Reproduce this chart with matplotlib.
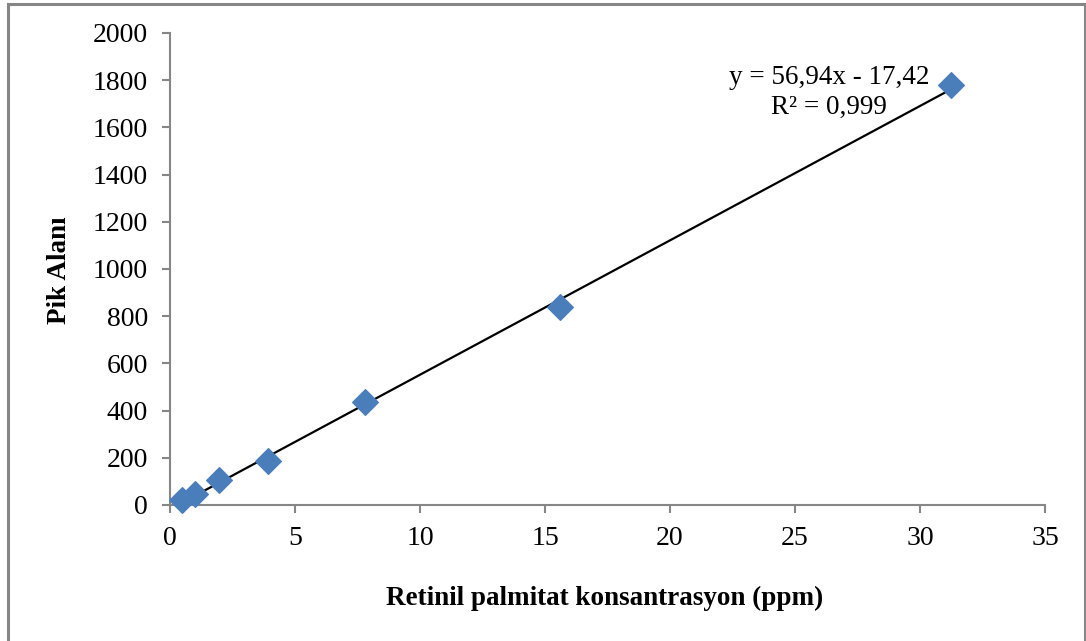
import matplotlib
matplotlib.use("Agg")
import matplotlib.pyplot as plt
from matplotlib.patches import Rectangle
import numpy as np

# Data
concentration = [0.49, 0.98, 1.95, 3.9, 7.8, 15.6, 31.25]
peak_area = [22, 48, 105, 188, 435, 838, 1778]
slope = 56.94
intercept = -17.42
equation_text = "y = 56,94x - 17,42"
r2_text = "R² = 0,999"
x_ticks = [0, 5, 10, 15, 20, 25, 30, 35]
y_ticks = [0, 200, 400, 600, 800, 1000, 1200, 1400, 1600, 1800, 2000]
x_label = "Retinil palmitat konsantrasyon (ppm)"
y_label = "Pik Alanı"

plt.rcParams['font.family'] = ['Liberation Serif', 'DejaVu Serif']

W, H = 1086, 641
fig = plt.figure(figsize=(W / 100, H / 100), dpi=100)

# outer chart border
fig.patches.append(Rectangle((8 / W, -0.05), (1085 - 8) / W, 1.05 - 4 / H,
                             transform=fig.transFigure, fill=False,
                             edgecolor='#868686', linewidth=2.2))

ax = fig.add_axes([170 / W, 1 - 505 / H, (1045 - 170) / W, (505 - 33) / H])
ax.set_xlim(0, 35)
ax.set_ylim(0, 2000)
ax.set_xticks(x_ticks)
ax.set_yticks(y_ticks)

for s in ['top', 'right']:
    ax.spines[s].set_visible(False)
for s in ['left', 'bottom']:
    ax.spines[s].set_color('#868686')
    ax.spines[s].set_linewidth(1.5)
ax.tick_params(axis='both', colors='#868686', width=1.5, length=6,
               labelcolor='black', labelsize=20, direction='out')
ax.tick_params(axis='y', pad=10)
ax.tick_params(axis='x', pad=9)

# trendline
xl = np.array([concentration[0], concentration[-1]])
ax.plot(xl, slope * xl + intercept, color='black', linewidth=1.6, zorder=2)

ax.scatter(concentration, peak_area, marker='D', s=170, color='#4a7ebb',
           edgecolors='#4a7ebb', zorder=3, clip_on=False)

ax.text(829 / W, 1 - 78 / H, equation_text, transform=fig.transFigure,
        ha='center', va='center', fontsize=19.5)
ax.text(829 / W, 1 - 107 / H, r2_text, transform=fig.transFigure,
        ha='center', va='center', fontsize=19.5)

fig.text(605 / W, 1 - 598 / H, x_label, ha='center', va='center',
         fontsize=19.5, fontweight='bold')
fig.text(60 / W, 1 - 270 / H, y_label, ha='center', va='center',
         fontsize=19.5, fontweight='bold', rotation=90)

fig.savefig("out.png", dpi=100)
